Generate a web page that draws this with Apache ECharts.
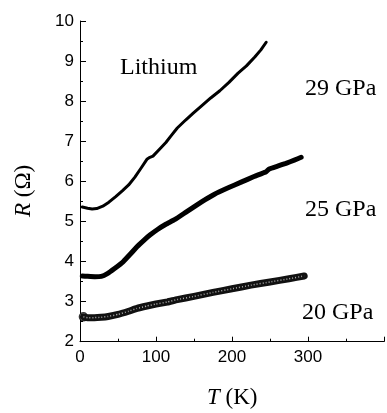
<!DOCTYPE html>
<html>
<head>
<meta charset="utf-8">
<script src="https://cdn.jsdelivr.net/npm/echarts@6/dist/echarts.min.js"></script>
<style>
  html, body { margin: 0; padding: 0; background: #fff; }
  #chart { width: 387px; height: 413px; }
</style>
</head>
<body>
<div id="chart"></div>
<script>
// 29 GPa
const t29 = [3, 10, 16, 22, 30, 38, 47, 56, 64, 72, 80, 88, 92, 96, 104, 113, 120, 128, 139, 149, 160, 172, 184, 196, 208, 219, 230, 238, 245]
const r29 = [5.36, 5.33, 5.31, 5.32, 5.38, 5.48, 5.62, 5.77, 5.91, 6.10, 6.32, 6.55, 6.60, 6.63, 6.79, 6.97, 7.14, 7.33, 7.53, 7.70, 7.88, 8.08, 8.26, 8.47, 8.70, 8.88, 9.10, 9.28, 9.47]
// 25 GPa
const t25 = [3, 10, 20, 28, 36, 45, 57, 66, 75, 84, 92, 102, 113, 125, 140, 160, 177, 195, 212, 229, 245, 249, 260, 271, 282, 291]
const r25 = [3.64, 3.63, 3.62, 3.63, 3.70, 3.82, 4.00, 4.18, 4.37, 4.53, 4.66, 4.80, 4.93, 5.05, 5.24, 5.49, 5.68, 5.84, 5.98, 6.12, 6.24, 6.31, 6.38, 6.45, 6.53, 6.60]
// 20 GPa
const t20 = [4.5, 10, 19, 28, 37, 50, 64, 75, 88, 100, 115, 128, 150, 175, 200, 225, 250, 275, 295]
const r20 = [2.62, 2.60, 2.60, 2.61, 2.63, 2.68, 2.76, 2.83, 2.89, 2.94, 2.99, 3.05, 3.13, 3.23, 3.32, 3.41, 3.49, 3.57, 3.64]
// 轴刻度
const xTicks = [0, 100, 200, 300]
const yTicks = [2, 3, 4, 5, 6, 7, 8, 9, 10]

const pairs = (xs, ys) => xs.map((x, i) => [x, ys[i]])
const serif = 'Liberation Serif'
const sans = 'Liberation Sans'

const chart = echarts.init(document.getElementById('chart'))
const option = {
  animation: false,
  grid: { left: 80, top: 21, width: 384, height: 320.7 },
  xAxis: {
    type: 'value',
    min: 0,
    max: 400,
    interval: 100,
    axisLine: { lineStyle: { color: '#000', width: 1 } },
    axisTick: { inside: true, length: 5, lineStyle: { color: '#000' } },
    minorTick: { show: true, splitNumber: 2, length: 3, lineStyle: { color: '#000' } },
    splitLine: { show: false },
    axisLabel: {
      color: '#000', fontSize: 17, fontFamily: sans, margin: 7,
      formatter: v => (xTicks.includes(v) ? String(v) : '')
    }
  },
  yAxis: {
    type: 'value',
    min: yTicks[0],
    max: yTicks[yTicks.length - 1],
    interval: 1,
    axisLine: { show: true, lineStyle: { color: '#000', width: 1 } },
    axisTick: { show: true, inside: true, length: 6, lineStyle: { color: '#000' } },
    minorTick: { show: true, splitNumber: 2, length: 3, lineStyle: { color: '#000' } },
    splitLine: { show: false },
    axisLabel: { color: '#000', fontSize: 17, fontFamily: sans, margin: 6 }
  },
  series: [
    {
      type: 'line', data: pairs(t29, r29), showSymbol: false,
      lineStyle: { color: '#000', width: 3, cap: 'round', join: 'round' }
    },
    {
      type: 'line', data: pairs(t25, r25), showSymbol: false, smooth: 0.1,
      lineStyle: { color: '#000', width: 5, cap: 'round', join: 'round' }
    },
    {
      type: 'line', data: pairs(t20, r20), showSymbol: false, smooth: 0.1,
      lineStyle: { color: '#111', width: 7, cap: 'round', join: 'round' }
    },
    {
      // 空心圆纹理
      type: 'line', data: pairs(t20, r20), showSymbol: false, smooth: 0.1,
      lineStyle: { color: '#aaa', width: 1.5, type: [1, 2] }
    },
    {
      type: 'scatter', data: [[t20[0], r20[0]]], symbol: 'circle', symbolSize: 8,
      itemStyle: { color: '#fff', borderColor: '#000', borderWidth: 1.5 }
    }
  ],
  graphic: [
    { type: 'text', left: 120, top: 56, style: { text: 'Lithium', font: '24px "Liberation Serif"', fill: '#000' } },
    { type: 'text', left: 305, top: 77, style: { text: '29 GPa', font: '24px "Liberation Serif"', fill: '#000' } },
    { type: 'text', left: 305, top: 198, style: { text: '25 GPa', font: '24px "Liberation Serif"', fill: '#000' } },
    { type: 'text', left: 302, top: 301, style: { text: '20 GPa', font: '24px "Liberation Serif"', fill: '#000' } },
    {
      type: 'text', x: 12, y: 217, rotation: Math.PI / 2,
      style: {
        text: '{i|R} (Ω)',
        font: '23px "Liberation Serif"', fill: '#000',
        rich: { i: { fontStyle: 'italic', fontSize: 23, fontFamily: serif } }
      }
    },
    {
      type: 'text', left: 207, top: 386,
      style: {
        text: '{i|T} (K)',
        font: '23px "Liberation Serif"', fill: '#000',
        rich: { i: { fontStyle: 'italic', fontSize: 23, fontFamily: serif } }
      }
    }
  ]
}
chart.setOption(option)
</script>
</body>
</html>
